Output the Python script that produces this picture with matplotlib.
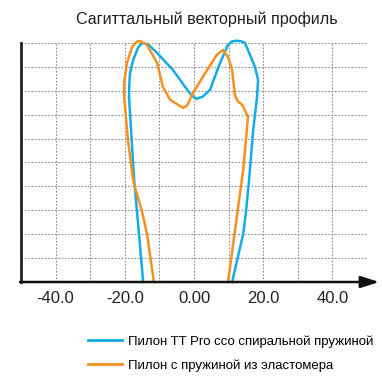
import matplotlib.pyplot as plt

plt.rcParams['font.family'] = ['Liberation Sans', 'DejaVu Sans']

# профиль с гильзой TT Pro (спиральная пружина)
blue_x = [-14.7, -17.3, -18.2, -18.8, -18.7, -18.5, -17.6, -16.2, -15.0, -13.2, -10.7, -6.1,
          -2.6, -0.8, 0.6, 2.5, 4.6, 7.5, 9.8, 11.0, 12.4, 13.8, 14.7, 17.6, 18.5, 18.2,
          17.1, 15.9, 15.0, 14.2, 11.0]
blue_y = [0, 42.7, 63.6, 77.4, 83.0, 87.4, 92.9, 97.9, 100.0, 99.3, 95.8, 88.7,
          81.6, 78.2, 76.6, 77.5, 80.3, 91.6, 99.2, 100.6, 100.9, 100.6, 100.0, 90.0, 84.5, 77.4,
          63.6, 42.7, 29.3, 20.1, 0]

# профиль с эластомерной пружиной
orange_x = [-11.6, -13.6, -15.0, -17.1, -17.6, -19.1, -20.2, -20.2, -19.4, -17.9,
            -16.6, -15.6, -13.6, -10.7, -9.0, -6.9, -3.2, -2.0, -0.3, 3.8, 6.6, 8.4,
            9.8, 11.0, 11.8, 12.6, 13.9, 15.6, 14.2, 9.8]
orange_y = [0, 20.1, 29.3, 39.7, 42.7, 59.4, 77.4, 83.3, 91.6, 98.3,
            100.5, 100.8, 99.2, 91.6, 81.6, 76.2, 72.8, 73.8, 79.1, 88.7, 95.0, 97.1,
            94.1, 88.7, 78.2, 75.6, 74.1, 69.0, 46.9, 0]

xticks = [-40, -20, 0, 20, 40]
xtick_labels = ['-40.0', '-20.0', '0.00', '20.0', '40.0']
labels = ['Пилон TT Pro ссо спиральной пружиной', 'Пилон с пружиной из эластомера']

fig = plt.figure(figsize=(3.82, 3.76), dpi=100)
ax = fig.add_axes([0.055, 0.25, 0.906, 0.636])

ax.plot(blue_x, blue_y, color='#12ade8', lw=1.8, clip_on=False, label=labels[0])
ax.plot(orange_x, orange_y, color='#f7901e', lw=1.8, clip_on=False, label=labels[1])

ax.set_xlim(-50, 50)
ax.set_ylim(0, 100)
ax.set_xticks(range(-50, 51, 10))
ax.set_yticks(range(0, 101, 10))
ax.grid(True, color='#8c8c8c', linestyle=(0, (1.5, 1.5)), lw=0.8)
ax.set_axisbelow(True)
ax.set_yticklabels([])
ax.set_xticklabels([])
ax.tick_params(length=0)
for x, t in zip(xticks, xtick_labels):
    ax.text(x, -7, t, ha='center', va='center', fontsize=12, color='#222222')

for s in ['top', 'right', 'bottom']:
    ax.spines[s].set_visible(False)
ax.spines['left'].set_linewidth(2)
ax.spines['left'].set_color('#222222')
ax.annotate('', xy=(53.5, 0), xytext=(-50.3, 0), xycoords='data',
            arrowprops=dict(arrowstyle='-|>,head_length=1.1,head_width=0.35',
                            color='#111111', lw=1.8, shrinkA=0, shrinkB=0),
            annotation_clip=False)

fig.text(0.541, 0.948, 'Сагиттальный векторный профиль', ha='center', va='center',
         fontsize=11.6, color='#222222')

leg = fig.legend(loc='upper left', bbox_to_anchor=(0.23, 0.109), frameon=False,
                 fontsize=9.5, handlelength=2.55, handletextpad=0.5, labelspacing=0.88,
                 borderaxespad=0, borderpad=0)
for h in leg.get_lines():
    h.set_linewidth(2)

fig.savefig('out.png', dpi=100)
